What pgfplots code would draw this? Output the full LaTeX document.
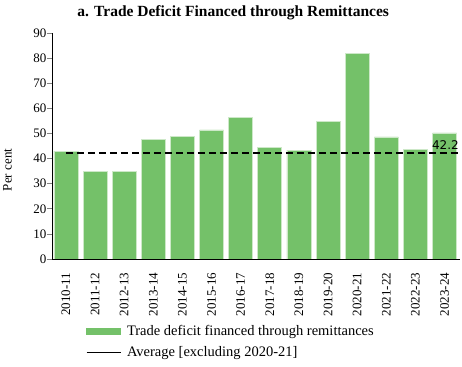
\documentclass[border=0pt]{standalone}
\usepackage{fontspec}
\setmainfont{Liberation Serif}
\newfontfamily\dejavu{DejaVu Sans}
\usepackage{pgfplots}
\pgfplotsset{compat=1.18}
\definecolor{barg}{RGB}{116,193,105}
\definecolor{baredge}{RGB}{205,232,200}
\begin{document}
\begin{tikzpicture}
\useasboundingbox (-52pt,-107pt) rectangle (410pt,259pt);
\begin{axis}[
  scale only axis, width=408pt, height=226pt,
  xmin=-0.48, xmax=13.53, ymin=0, ymax=90,
  ytick={0,10,...,90},
  xtick={0,...,13},
  xticklabels={2010-11,2011-12,2012-13,2013-14,2014-15,2015-16,2016-17,2017-18,2018-19,2019-20,2020-21,2021-22,2022-23,2023-24},
  axis x line*=bottom, axis y line*=left,
  axis line style={black, line width=0.8pt},
  tick align=outside, major tick length=4.5pt,
  ytick style={gray, line width=0.6pt},
  xtick style={draw=none},
  /pgf/number format/assume math mode=true,
  tick label style={font=\fontsize{13}{15}\selectfont},
  xticklabel style={rotate=90, anchor=east, inner sep=0pt},
  xticklabel shift=9pt,
  yticklabel style={inner sep=1pt},
  ylabel={Per cent},
  every axis y label/.style={at={(axis description cs:-0.109,0.394)}, rotate=90, anchor=center, font=\fontsize{13}{15}\selectfont},
  title={\textbf{a. Trade Deficit Financed through Remittances}},
  title style={font=\fontsize{15.5}{17}\selectfont, at={(axis description cs:0.444,1)}, anchor=center, yshift=14pt},
  legend style={at={(axis description cs:0.083,-0.285)}, anchor=north west, draw=none, fill=none,
    font=\fontsize{14.5}{16}\selectfont, row sep=5pt, inner sep=0pt,
    /tikz/every odd column/.append style={column sep=4pt}},
  legend cell align=left,
]
\addplot[ybar, bar width=24pt, fill=barg, draw=baredge, line width=0.8pt,
  legend image code/.code={\fill[barg] (0pt,-3.2pt) rectangle (34pt,3.2pt);}]
  coordinates {(0,43) (1,34.8) (2,34.7) (3,47.6) (4,48.9) (5,51.4) (6,56.2) (7,44.5) (8,43.4) (9,54.9) (10,82) (11,48.6) (12,43.7) (13,50.2)};
\addlegendentry{Trade deficit financed through remittances}
\addplot[black, line width=1.6pt, dash pattern=on 7pt off 4pt,
  legend image code/.code={\draw[black, solid, line width=1pt] (0pt,0pt) -- (34pt,0pt);}]
  coordinates {(0,42.2) (13.53,42.2)};
\addlegendentry{Average [excluding 2020-21]}
\node[anchor=south east, inner sep=1pt, font=\dejavu\fontsize{12}{14}\selectfont] at (axis cs:13.53,43.2) {42.2};
\end{axis}
\end{tikzpicture}
\end{document}
